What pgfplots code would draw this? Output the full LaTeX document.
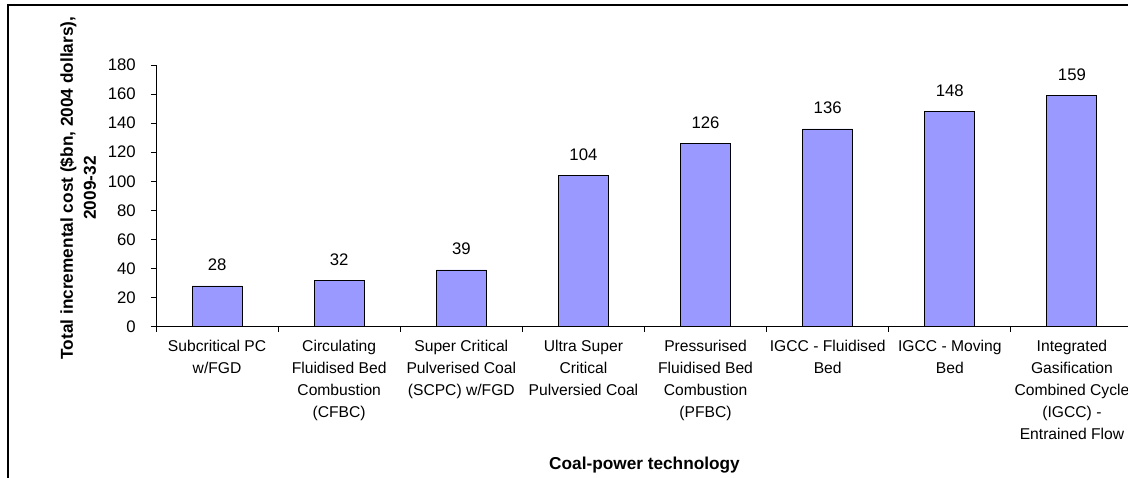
\documentclass[border=0pt]{standalone}
\usepackage{fontspec}
\setmainfont{Liberation Sans}
\usepackage{pgfplots}
\pgfplotsset{compat=1.18}
\definecolor{barblue}{HTML}{9999FF}
\newcommand\lab{\fontsize{15.7}{22}\selectfont}
\newcommand\nlab{\fontsize{16.8}{22}\selectfont}
\newcommand\blab{\fontsize{17.3}{23}\selectfont\bfseries}
\begin{document}
\begin{tikzpicture}
\draw[line width=1.2bp] (8bp,-20bp) -- (8bp,473bp) -- (1150bp,473bp);
\begin{axis}[
  at={(156bp,151.3bp)}, anchor=south west,
  scale only axis, width=977bp, height=261.7bp,
  xmin=0.5, xmax=8.5, ymin=0, ymax=180,
  axis lines*=left,
  axis line style={black, line width=0.8bp},
  tick style={black, line width=0.8bp},
  tick align=outside, major tick length=5bp,
  ytick={0,20,...,180},
  xtick={0.5,1.5,...,8.5}, xticklabels={},
  extra x ticks={1,2,3,4,5,6,7,8},
  extra x tick labels={{Subcritical PC\\w/FGD},{Circulating\\Fluidised Bed\\Combustion\\(CFBC)},{Super Critical\\Pulverised Coal\\(SCPC) w/FGD},{Ultra Super\\Critical\\Pulversied Coal},{Pressurised\\Fluidised Bed\\Combustion\\(PFBC)},{IGCC - Fluidised\\Bed},{IGCC - Moving\\Bed},{Integrated\\Gasification\\Combined Cycle\\(IGCC) -\\Entrained Flow}},
  extra x tick style={major tick length=0pt, xticklabel style={anchor=north, align=center, inner sep=0pt, yshift=-13.5bp, font=\lab}},
  yticklabel style={anchor=east, inner sep=0pt, xshift=-15bp, font=\nlab},
  /pgf/number format/assume math mode=true,
  ylabel={Total incremental cost (\$bn, 2004 dollars),\\2009-32},
  ylabel style={at={(axis description cs:-0.0798,0.530)}, anchor=center, align=center, font=\blab},
  xlabel={Coal-power technology},
  xlabel style={at={(axis description cs:0.5,-0.5285)}, anchor=center, font=\blab},
  clip=false,
  ybar, bar width=50bp,
  nodes near coords,
  every node near coord/.append style={anchor=south, inner sep=0pt, yshift=14.5bp, font=\nlab, black},
]
\addplot[fill=barblue, draw=black, line width=0.9bp] coordinates {
(1,28) (2,32) (3,39) (4,104) (5,126) (6,136) (7,148) (8,159)};
\end{axis}
\pgfresetboundingbox
\useasboundingbox (0,0) rectangle (1128bp,478bp);
\end{tikzpicture}
\end{document}
